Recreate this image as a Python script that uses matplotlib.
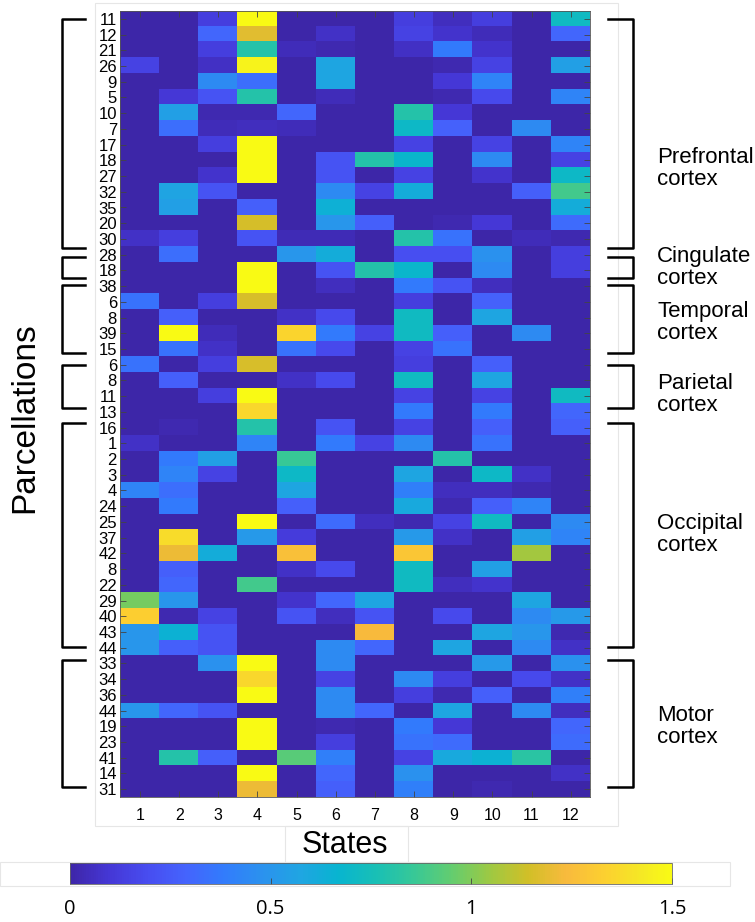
import numpy as np
import matplotlib
matplotlib.use("Agg")
import matplotlib.pyplot as plt
from matplotlib.colors import LinearSegmentedColormap
from matplotlib.patches import Rectangle
from matplotlib.lines import Line2D
import matplotlib.transforms as mtransforms

plt.rcParams['font.family'] = ['Liberation Sans', 'DejaVu Sans']

# parula-like colormap (MATLAB default)
parula_pts = [
    [0.2422, 0.1504, 0.6603], [0.2706, 0.2147, 0.8364], [0.2813, 0.3006, 0.9414],
    [0.2699, 0.3892, 0.9906], [0.1963, 0.4847, 0.9892], [0.1687, 0.5703, 0.9359],
    [0.1248, 0.6459, 0.8883], [0.0297, 0.7082, 0.8163], [0.0964, 0.7500, 0.7120],
    [0.2161, 0.7843, 0.5923], [0.3909, 0.8029, 0.4354], [0.6174, 0.7876, 0.2612],
    [0.8203, 0.7498, 0.1535], [0.9728, 0.7298, 0.2394], [0.9892, 0.8136, 0.1885],
    [0.9597, 0.9135, 0.1423], [0.9769, 0.9839, 0.0805]]
parula_pos = [0, 4, 8, 12, 16, 20, 24, 28, 32, 36, 40, 44, 48, 52, 56, 60, 63]
parula = LinearSegmentedColormap.from_list(
    "parula", list(zip([p / 63 for p in parula_pos], parula_pts)))

# data
states = [str(i) for i in range(1, 13)]

prefrontal_labels = ["11", "12", "21", "26", "9", "5", "10", "7", "17", "18", "27", "32", "35", "20", "30"]
prefrontal = [
    [0, 0, 0.13, 1.5, 0, 0, 0, 0.13, 0.05, 0.13, 0, 0.72],
    [0, 0, 0.3, 1.18, 0, 0.07, 0, 0.15, 0.08, 0.04, 0, 0.3],
    [0, 0, 0.13, 0.8, 0.04, 0.02, 0, 0.06, 0.38, 0.08, 0, 0],
    [0.15, 0, 0.06, 1.47, 0, 0.58, 0, 0, 0.02, 0.15, 0, 0.55],
    [0, 0, 0.45, 0.33, 0, 0.58, 0, 0, 0.1, 0.42, 0, 0],
    [0, 0.1, 0.22, 0.8, 0, 0.04, 0, 0, 0.02, 0.18, 0, 0.42],
    [0, 0.55, 0.02, 0.02, 0.3, 0, 0, 0.8, 0.1, 0, 0, 0],
    [0, 0.33, 0.04, 0.05, 0.04, 0, 0, 0.7, 0.28, 0, 0.45, 0],
    [0, 0, 0.13, 1.5, 0, 0, 0, 0.15, 0, 0.15, 0, 0.42],
    [0, 0, 0, 1.5, 0, 0.22, 0.8, 0.68, 0, 0.45, 0, 0.15],
    [0, 0, 0.08, 1.5, 0, 0.22, 0, 0.15, 0, 0.08, 0, 0.7],
    [0, 0.57, 0.22, 0, 0, 0.45, 0.15, 0.62, 0, 0, 0.27, 0.88],
    [0, 0.55, 0, 0.27, 0, 0.64, 0, 0, 0, 0, 0, 0.62],
    [0, 0, 0, 1.15, 0, 0.5, 0.27, 0, 0.02, 0.1, 0, 0.32],
    [0.07, 0.13, 0, 0.22, 0.03, 0.03, 0, 0.8, 0.35, 0, 0.04, 0.02],
]

cingulate_labels = ["28", "18"]
cingulate = [
    [0, 0.33, 0, 0, 0.5, 0.62, 0, 0.2, 0.2, 0.48, 0, 0.13],
    [0, 0, 0, 1.5, 0, 0.22, 0.8, 0.68, 0, 0.45, 0, 0.13],
]

temporal_labels = ["38", "6", "8", "39", "15"]
temporal = [
    [0, 0, 0, 1.5, 0, 0.05, 0, 0.38, 0.22, 0.05, 0, 0],
    [0.35, 0, 0.13, 1.16, 0, 0, 0, 0.13, 0, 0.28, 0, 0],
    [0, 0.27, 0, 0, 0.07, 0.18, 0, 0.72, 0, 0.58, 0, 0],
    [0, 1.5, 0.04, 0, 1.35, 0.38, 0.15, 0.72, 0.27, 0, 0.45, 0],
    [0, 0.35, 0.07, 0, 0.35, 0.18, 0, 0.15, 0.35, 0, 0, 0],
]

parietal_labels = ["6", "8", "11", "13"]
parietal = [
    [0.35, 0, 0.13, 1.16, 0, 0, 0, 0.13, 0, 0.27, 0, 0],
    [0, 0.27, 0, 0, 0.07, 0.18, 0, 0.72, 0, 0.58, 0, 0],
    [0, 0, 0.13, 1.5, 0, 0, 0, 0.15, 0, 0.15, 0, 0.72],
    [0, 0, 0, 1.36, 0, 0, 0, 0.38, 0, 0.38, 0, 0.3],
]

occipital_labels = ["16", "1", "2", "3", "4", "24", "25", "37", "42", "8", "22", "29", "40", "43", "44"]
occipital = [
    [0, 0.02, 0, 0.8, 0, 0.22, 0, 0.15, 0, 0.27, 0, 0.27],
    [0.07, 0, 0, 0.42, 0, 0.38, 0.15, 0.45, 0, 0.35, 0, 0],
    [0, 0.38, 0.55, 0, 0.86, 0, 0, 0, 0.8, 0, 0, 0],
    [0, 0.42, 0.15, 0, 0.7, 0, 0, 0.58, 0, 0.7, 0.07, 0],
    [0.42, 0.33, 0, 0, 0.58, 0, 0, 0.4, 0.05, 0.05, 0.02, 0],
    [0, 0.38, 0, 0, 0.27, 0, 0, 0.6, 0.02, 0.27, 0.42, 0],
    [0, 0, 0, 1.5, 0, 0.32, 0.05, 0.02, 0.15, 0.72, 0, 0.45],
    [0, 1.38, 0, 0.52, 0.12, 0, 0, 0.52, 0.07, 0, 0.55, 0.42],
    [0, 1.21, 0.62, 0, 1.26, 0, 0, 1.29, 0, 0, 1.06, 0],
    [0, 0.27, 0, 0, 0.07, 0.18, 0, 0.72, 0, 0.55, 0, 0],
    [0, 0.3, 0, 0.88, 0, 0, 0, 0.72, 0.05, 0.08, 0, 0],
    [0.98, 0.5, 0, 0, 0.08, 0.3, 0.58, 0, 0, 0, 0.58, 0],
    [1.33, 0.02, 0.15, 0, 0.22, 0.05, 0.22, 0, 0.18, 0, 0.45, 0.52],
    [0.5, 0.65, 0.22, 0, 0, 0, 1.24, 0, 0, 0.58, 0.5, 0.02],
    [0.5, 0.27, 0.22, 0, 0, 0.45, 0.3, 0, 0.58, 0, 0.45, 0.07],
]

motor_labels = ["33", "34", "36", "44", "19", "23", "41", "14", "31"]
motor = [
    [0, 0, 0.48, 1.5, 0, 0.45, 0, 0, 0, 0.52, 0, 0.48],
    [0, 0, 0, 1.36, 0, 0.15, 0, 0.45, 0.13, 0, 0.18, 0.07],
    [0, 0, 0, 1.5, 0, 0.45, 0, 0.13, 0.02, 0.27, 0, 0.4],
    [0.5, 0.3, 0.22, 0, 0, 0.45, 0.3, 0, 0.58, 0, 0.45, 0.05],
    [0, 0, 0, 1.5, 0, 0.02, 0, 0.38, 0.1, 0, 0, 0.3],
    [0, 0, 0, 1.5, 0, 0.13, 0, 0.35, 0.32, 0, 0, 0.32],
    [0, 0.8, 0.27, 0, 0.93, 0.4, 0, 0.15, 0.6, 0.65, 0.82, 0],
    [0, 0, 0, 1.5, 0, 0.3, 0, 0.48, 0, 0, 0, 0.07],
    [0, 0, 0, 1.21, 0, 0.27, 0, 0.4, 0, 0.02, 0, 0],
]

group_names = ["Prefrontal\ncortex", "Cingulate\ncortex", "Temporal\ncortex",
               "Parietal\ncortex", "Occipital\ncortex", "Motor\ncortex"]
group_values = [prefrontal, cingulate, temporal, parietal, occipital, motor]
group_labels = [prefrontal_labels, cingulate_labels, temporal_labels,
                parietal_labels, occipital_labels, motor_labels]

values = np.vstack([np.array(g) for g in group_values])
row_labels = sum(group_labels, [])

# figure
W, H = 755, 922
fig = plt.figure(figsize=(W / 100, H / 100), dpi=100)

# faint panel boxes behind the chart
for (x0, y0, x1, y1) in [(95, 3, 618, 826), (285, 826, 408, 862), (0, 862, 730, 886)]:
    fig.patches.append(Rectangle((x0 / W, 1 - y1 / H), (x1 - x0) / W, (y1 - y0) / H,
                                 transform=fig.transFigure, facecolor="none",
                                 edgecolor="#e6e6e6", lw=0.8, zorder=-1))

ax = fig.add_axes([120.4 / W, 1 - 797 / H, (590.3 - 120.4) / W, (797 - 11) / H])
ax.set_zorder(2)
im = ax.imshow(values, cmap=parula, vmin=0, vmax=1.5, aspect="auto", interpolation="nearest")

ax.set_xticks(range(len(states)))
ax.set_xticklabels(states, fontsize=11.5)
ax.set_yticks(range(len(row_labels)))
ax.set_yticklabels(row_labels, fontsize=12)
ax.tick_params(axis="y", direction="in", length=4, width=0.6, left=True, right=True,
               color="#444444", pad=2.5)
ax.tick_params(axis="x", direction="in", length=4, width=0.6, top=True, bottom=True,
               color="#444444", pad=8)
for s in ax.spines.values():
    s.set_linewidth(0.6)
    s.set_color("#555555")

fig.text(345 / W, 1 - 853 / H, "States", fontsize=22, ha="center", va="baseline")
fig.text(25 / W, 1 - 418 / H, "Parcellations", fontsize=24, rotation=90,
         ha="center", va="center")

# brackets for the regions
trans = mtransforms.blended_transform_factory(fig.transFigure, ax.transData)
top_off = [0.0, 0.15, -0.05, 0.0, -0.3, -0.2]
bot_off = [0.6, 0.5, 0.25, -0.25, -0.05, -0.15]
label_shift = [2.2, 0.0, 0.2, 0.5, 0.0, 0.2]
start = 0
for i, lab in enumerate(group_labels):
    first, last = start, start + len(lab) - 1
    y0 = first + top_off[i]
    y1 = last + bot_off[i]
    # right bracket
    ax.add_line(Line2D([608 / W, 633 / W, 633 / W, 608 / W], [y0, y0, y1, y1],
                       transform=trans, color="black", lw=1.8, clip_on=False))
    # left bracket
    ax.add_line(Line2D([85 / W, 62 / W, 62 / W, 85 / W], [y0, y0, y1, y1],
                       transform=trans, color="black", lw=1.8, clip_on=False))
    ax.text(657 / W, (y0 + y1) / 2 + label_shift[i], group_names[i], transform=trans,
            fontsize=16, ha="left", va="center", linespacing=1.05)
    start = last + 1

# colorbar
cax = fig.add_axes([70 / W, 1 - 884 / H, (672 - 70) / W, (884 - 863) / H])
cb = fig.colorbar(im, cax=cax, orientation="horizontal", ticks=[0, 0.5, 1, 1.5])
cb.ax.set_xticklabels(["0", "0.5", "1", "1.5"], fontsize=14.5, family=["Open Sans", "DejaVu Sans"])
cb.ax.tick_params(direction="in", length=4, width=0.6, color="#444444", pad=11)
cb.outline.set_linewidth(0.6)
cb.outline.set_edgecolor("#666666")

fig.savefig("out.png", dpi=100)
